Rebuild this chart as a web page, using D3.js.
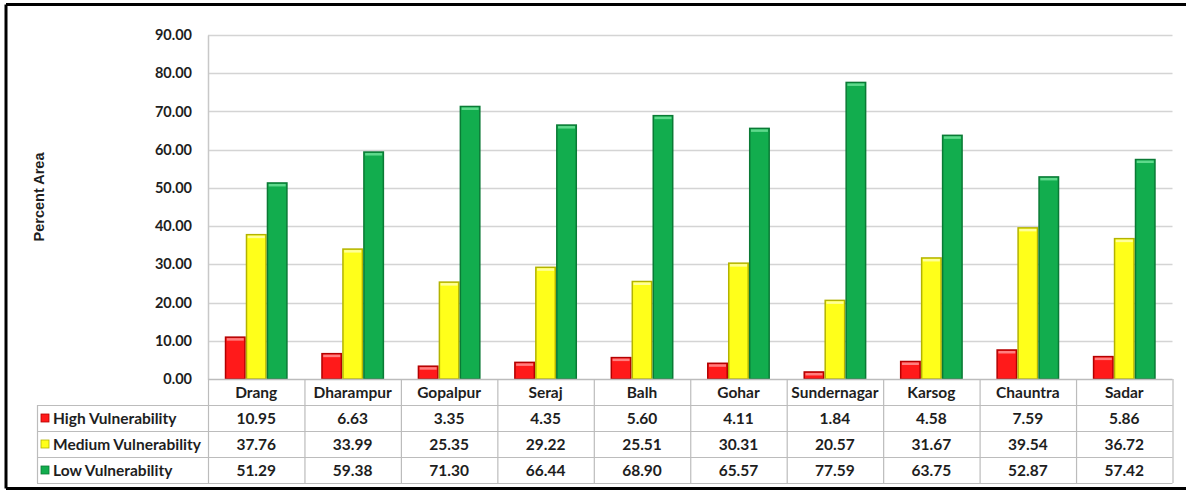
<!DOCTYPE html>
<html>
<head>
<meta charset="utf-8">
<script src="https://cdn.jsdelivr.net/npm/d3@7"></script>
<style>
  html, body { margin: 0; padding: 0; background: #fff; }
  svg { display: block; }
  text { font-family: Lato, "Open Sans", sans-serif; font-weight: bold; fill: #1e1e1e; }
</style>
</head>
<body>
<svg id="chart" width="1186" height="492"></svg>
<script>
const blocks = ['Drang', 'Dharampur', 'Gopalpur', 'Seraj', 'Balh', 'Gohar', 'Sundernagar', 'Karsog', 'Chauntra', 'Sadar'];
const seriesNames = ['High Vulnerability', 'Medium Vulnerability', 'Low Vulnerability'];
const highVals   = [10.95, 6.63, 3.35, 4.35, 5.60, 4.11, 1.84, 4.58, 7.59, 5.86];
const mediumVals = [37.76, 33.99, 25.35, 29.22, 25.51, 30.31, 20.57, 31.67, 39.54, 36.72];
const lowVals    = [51.29, 59.38, 71.30, 66.44, 68.90, 65.57, 77.59, 63.75, 52.87, 57.42];
const yTicks = [0, 10, 20, 30, 40, 50, 60, 70, 80, 90];

const seriesVals = [highVals, mediumVals, lowVals];
const fills   = ['#ff1a1a', '#ffff1a', '#12ad4e'];
const strokes = ['#b30000', '#b3b300', '#0a7a35'];
const lights  = ['#ff8080', '#ffff99', '#5fd98c'];

const svg = d3.select('#chart');
const W = 1186, H = 492;

// outer frame (right side is cut off in the source)
const frame = svg.append('g').attr('stroke', '#000').attr('stroke-width', 3);
frame.append('line').attr('x1', 6).attr('y1', 4.5).attr('x2', W).attr('y2', 4.5);
frame.append('line').attr('x1', 6).attr('y1', 4.5).attr('x2', 6).attr('y2', 488.5);
frame.append('line').attr('x1', 6).attr('y1', 488.5).attr('x2', W).attr('y2', 488.5);

const plotL = 208, plotR = 1172.5, plotT = 35, plotB = 379;

const x = d3.scaleBand().domain(blocks).range([plotL, plotR]).padding(0);
const x1 = d3.scaleBand().domain(seriesNames).range([0, x.bandwidth()]).paddingInner(0).paddingOuter(0.8);
const y = d3.scaleLinear().domain([0, 90]).range([plotB, plotT]);

// gridlines
svg.append('g').selectAll('line').data(yTicks.filter(d => d > 0)).join('line')
  .attr('x1', plotL).attr('x2', plotR)
  .attr('y1', d => Math.round(y(d)) + 0.5).attr('y2', d => Math.round(y(d)) + 0.5)
  .attr('stroke', '#d4d4d4').attr('stroke-width', 1.5);

// y axis
const yAxis = svg.append('g').attr('transform', 'translate(' + plotL + ',0)')
  .call(d3.axisLeft(y).tickValues(yTicks).tickFormat(d3.format('.2f')).tickSize(0).tickPadding(16));
yAxis.select('.domain').attr('stroke', '#c8c8c8').attr('stroke-width', 1.5);
yAxis.selectAll('text').style('font-size', '14.5px').style('font-family', 'Lato, sans-serif').attr('fill', '#1e1e1e');

svg.append('text')
  .attr('transform', 'translate(44,' + 197 + ') rotate(-90)')
  .attr('text-anchor', 'middle')
  .style('font-family', '"Liberation Sans", Arial, sans-serif')
  .style('font-size', '14.5px')
  .text('Percent Area');

// bars
const barData = [];
blocks.forEach(function (b, i) {
  seriesNames.forEach(function (s, j) {
    barData.push({ block: b, series: s, j: j, value: seriesVals[j][i] });
  });
});

const bars = svg.append('g').selectAll('g').data(barData).join('g')
  .attr('transform', d => 'translate(' + (x(d.block) + x1(d.series)) + ',0)');

bars.append('rect')
  .attr('x', 0.75).attr('width', x1.bandwidth() - 1.5)
  .attr('y', d => y(d.value)).attr('height', d => plotB - y(d.value))
  .attr('fill', d => fills[d.j])
  .attr('stroke', d => strokes[d.j]).attr('stroke-width', 1.5);

bars.append('rect')
  .attr('x', 2).attr('width', x1.bandwidth() - 4)
  .attr('y', d => y(d.value) + 1).attr('height', d => Math.min(2.5, Math.max(0, plotB - y(d.value) - 2)))
  .attr('fill', d => lights[d.j]);

// bottom axis line
svg.append('line').attr('x1', plotL).attr('x2', plotR).attr('y1', plotB + 0.5).attr('y2', plotB + 0.5)
  .attr('stroke', '#bcbcbc').attr('stroke-width', 1.5);

// data table
const rowTops = [379, 405, 431, 457, 483];
const tableL = 37;
const table = svg.append('g').attr('stroke', '#bcbcbc').attr('stroke-width', 1.2);

rowTops.slice(1).forEach(function (ry) {
  table.append('line').attr('x1', tableL).attr('x2', plotR).attr('y1', ry + 0.5).attr('y2', ry + 0.5);
});
table.append('line').attr('x1', tableL + 0.5).attr('x2', tableL + 0.5).attr('y1', rowTops[1]).attr('y2', rowTops[4]);
blocks.concat(['_end']).forEach(function (b, i) {
  const vx = i < blocks.length ? x(b) : plotR;
  table.append('line').attr('x1', vx + 0.5).attr('x2', vx + 0.5).attr('y1', rowTops[0]).attr('y2', rowTops[4]);
});

// category labels
svg.append('g').selectAll('text').data(blocks).join('text')
  .attr('x', d => x(d) + x.bandwidth() / 2)
  .attr('y', (rowTops[0] + rowTops[1]) / 2 + 5.5)
  .attr('text-anchor', 'middle')
  .style('font-size', '15.5px')
  .text(d => d);

// row legends and values
seriesNames.forEach(function (s, j) {
  const cy = (rowTops[j + 1] + rowTops[j + 2]) / 2;
  svg.append('rect')
    .attr('x', 41).attr('y', cy - 4).attr('width', 8).attr('height', 8)
    .attr('fill', fills[j]).attr('stroke', strokes[j]).attr('stroke-width', 0.8);
  svg.append('text')
    .attr('x', 53).attr('y', cy + 5.5)
    .style('font-size', '15.5px')
    .text(s);
  svg.append('g').selectAll('text').data(seriesVals[j]).join('text')
    .attr('x', (d, i) => x(blocks[i]) + x.bandwidth() / 2)
    .attr('y', cy + 5.5)
    .attr('text-anchor', 'middle')
    .style('font-size', '15.5px')
    .text(d => d3.format('.2f')(d));
});
</script>
</body>
</html>
